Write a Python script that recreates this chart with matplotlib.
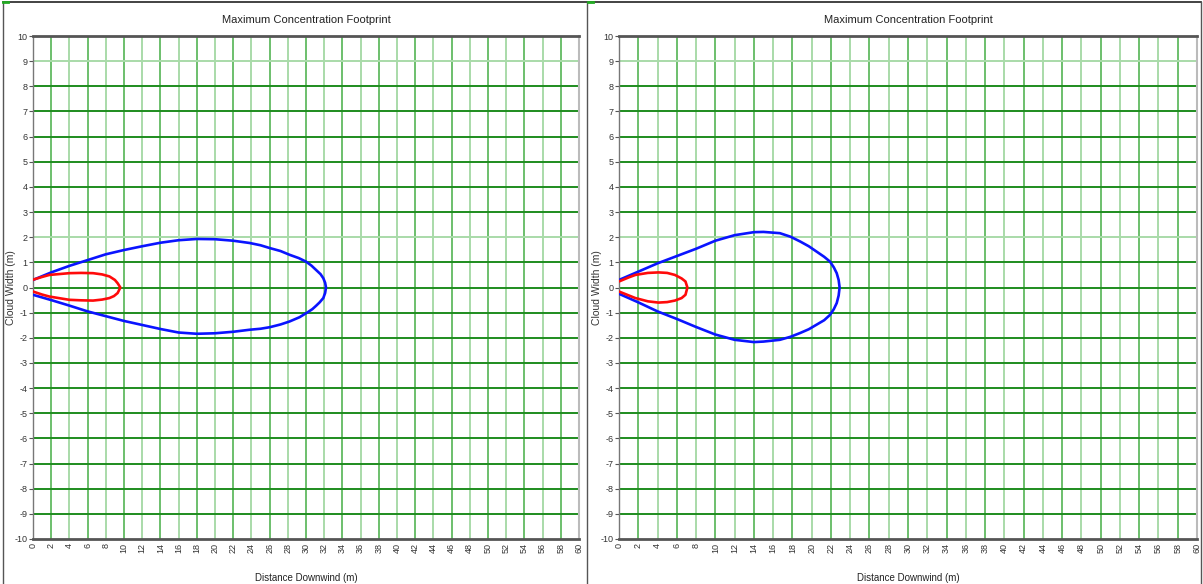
import matplotlib
matplotlib.use("Agg")
import matplotlib.pyplot as plt
from matplotlib.lines import Line2D

# ---------------- data ----------------
title = "Maximum Concentration Footprint"
xlabel = "Distance Downwind (m)"
ylabel = "Cloud Width (m)"
x_ticks = list(range(0, 61, 2))
y_ticks = list(range(-10, 11, 1))

# Left panel: closed footprint contours (downwind distance, cloud width)
left_blue_x = [0, 1, 2, 4, 6, 8, 10, 12, 14, 16, 18, 20, 22, 23.8, 25, 26, 27.2, 28.2, 29.2, 30, 30.6, 31.1, 31.6, 31.9, 32.1, 32.2,
               32.1, 31.9, 31.5, 31.1, 30.7, 30.2, 29.3, 28.2, 27.2, 26, 25, 23.8, 22, 20, 18, 16, 14, 12, 10, 8, 6, 4, 2, 0]
left_blue_y = [0.3, 0.45, 0.6, 0.86, 1.09, 1.32, 1.49, 1.64, 1.78, 1.88, 1.93, 1.92, 1.86, 1.77, 1.68, 1.57, 1.45, 1.30, 1.17, 1.03, 0.87, 0.70, 0.53, 0.37, 0.19, 0.0,
               -0.22, -0.42, -0.59, -0.73, -0.86, -0.98, -1.18, -1.35, -1.47, -1.58, -1.64, -1.68, -1.76, -1.82, -1.84, -1.79, -1.65, -1.49, -1.33, -1.14, -0.95, -0.72, -0.5, -0.29]
left_red_x = [0, 1, 1.8, 4, 5.3, 6.6, 7.6, 8.4, 9.0, 9.3, 9.6,
              9.3, 8.9, 8.4, 7.6, 6.6, 5.3, 4, 1.8, 1, 0]
left_red_y = [0.31, 0.42, 0.5, 0.57, 0.58, 0.57, 0.52, 0.44, 0.3, 0.17, 0.0,
              -0.22, -0.34, -0.42, -0.48, -0.52, -0.51, -0.49, -0.36, -0.28, -0.16]

# Right panel
right_blue_x = [0, 2, 4, 6, 8, 10, 12, 14, 15, 16.7, 17.8, 18.8, 19.7, 20.5, 21.3, 21.9, 22.3, 22.6, 22.8, 22.9,
                22.8, 22.6, 22.3, 21.9, 21.3, 20.5, 19.7, 18.8, 17.8, 16.7, 15, 14, 12, 10, 8, 6, 4, 2, 0]
right_blue_y = [0.3, 0.63, 0.96, 1.25, 1.54, 1.86, 2.08, 2.2, 2.21, 2.16, 2.02, 1.83, 1.64, 1.43, 1.22, 1.03, 0.80, 0.57, 0.30, 0.0,
                -0.32, -0.62, -0.86, -1.09, -1.30, -1.48, -1.66, -1.81, -1.96, -2.08, -2.15, -2.17, -2.08, -1.87, -1.57, -1.25, -0.95, -0.59, -0.25]
right_red_x = [0, 1, 1.7, 3, 4.1, 5, 5.8, 6.5, 6.9, 7.1,
               6.9, 6.5, 5.8, 5, 4.1, 3, 1.7, 0]
right_red_y = [0.24, 0.4, 0.5, 0.58, 0.6, 0.58, 0.5, 0.36, 0.24, 0.0,
               -0.29, -0.42, -0.52, -0.58, -0.6, -0.55, -0.42, -0.16]

panels = [
    dict(blue=(left_blue_x, left_blue_y), red=(left_red_x, left_red_y)),
    dict(blue=(right_blue_x, right_blue_y), red=(right_red_x, right_red_y)),
]

# ---------------- figure ----------------
W, H = 1203, 584
fig = plt.figure(figsize=(W / 100, H / 100), dpi=100)
fig.patch.set_facecolor("white")

FONT = ["Liberation Sans Narrow", "Liberation Sans", "DejaVu Sans"]
dark_green = "#1e8c1e"
light_green = "#a9dba9"
mid_green = "#6cbf6c"

axes_px = [(33, 579), (619, 1197)]
top_px, bot_px = 36, 539

light_h = {9, 2}

for (x0, x1), p in zip(axes_px, panels):
    ax = fig.add_axes([x0 / W, 1 - bot_px / H, (x1 - x0) / W, (bot_px - top_px) / H])
    ax.set_xlim(0, 60)
    ax.set_ylim(-10, 10)
    # grid lines
    for i, xv in enumerate(x_ticks[1:-1]):
        c = mid_green if i % 2 == 0 else light_green
        ax.axvline(xv, color=c, lw=1.4, zorder=1)
    for yv in y_ticks[1:-1]:
        c = light_green if yv in light_h else dark_green
        ax.axhline(yv, color=c, lw=1.4, zorder=1)

    bx, by = p["blue"]
    ax.plot(bx, by, color="#0a14ff", lw=1.9, zorder=3, solid_joinstyle="round", solid_capstyle="round")
    rx, ry = p["red"]
    ax.plot(rx, ry, color="#ff0a0a", lw=1.9, zorder=3, solid_joinstyle="round", solid_capstyle="round")

    ax.set_xticks(x_ticks)
    ax.set_yticks(y_ticks)
    ax.set_xticklabels([str(v) for v in x_ticks], rotation=90, fontsize=6.5, color="#333333", family=FONT)
    ax.set_yticklabels([str(v) for v in y_ticks], fontsize=6.5, color="#333333", family=FONT)
    ax.tick_params(axis="x", length=0, pad=3)
    ax.tick_params(axis="y", length=3, width=0.8, color="#555555", pad=1)

    for side in ["top", "bottom"]:
        ax.spines[side].set_color("#555555")
        ax.spines[side].set_linewidth(2.0)
    ax.spines["left"].set_color("#777777")
    ax.spines["left"].set_linewidth(1.0)
    ax.spines["right"].set_color("#bbbbbb")
    ax.spines["right"].set_linewidth(1.5)

    cx = (x0 + x1) / 2 / W
    fig.text(cx, 1 - 20 / H, title, ha="center", va="center", fontsize=8, color="#222222", family=FONT)
    fig.text(cx, 1 - 578 / H, xlabel, ha="center", va="center", fontsize=7, color="#222222", family=FONT)
    fig.text((x0 - 22) / W, 1 - 288 / H, ylabel, ha="center", va="center", rotation=90,
             fontsize=7.5, color="#333333", family=FONT)

# outer frame lines
def fline(xa, ya, xb, yb, color, lw):
    fig.add_artist(Line2D([xa / W, xb / W], [1 - ya / H, 1 - yb / H], color=color, lw=lw,
                          transform=fig.transFigure))

fline(3, 2, 1201, 2, "#222222", 1.2)
fline(3, 2, 3, 584, "#555555", 1.0)
fline(587, 2, 587, 584, "#555555", 1.0)
fline(1201, 2, 1201, 584, "#555555", 1.0)
fline(3, 2, 8, 2, "#22aa22", 2.0)
fline(588, 2, 593, 2, "#22aa22", 2.0)

fig.savefig("out.png", dpi=100, facecolor="white")
